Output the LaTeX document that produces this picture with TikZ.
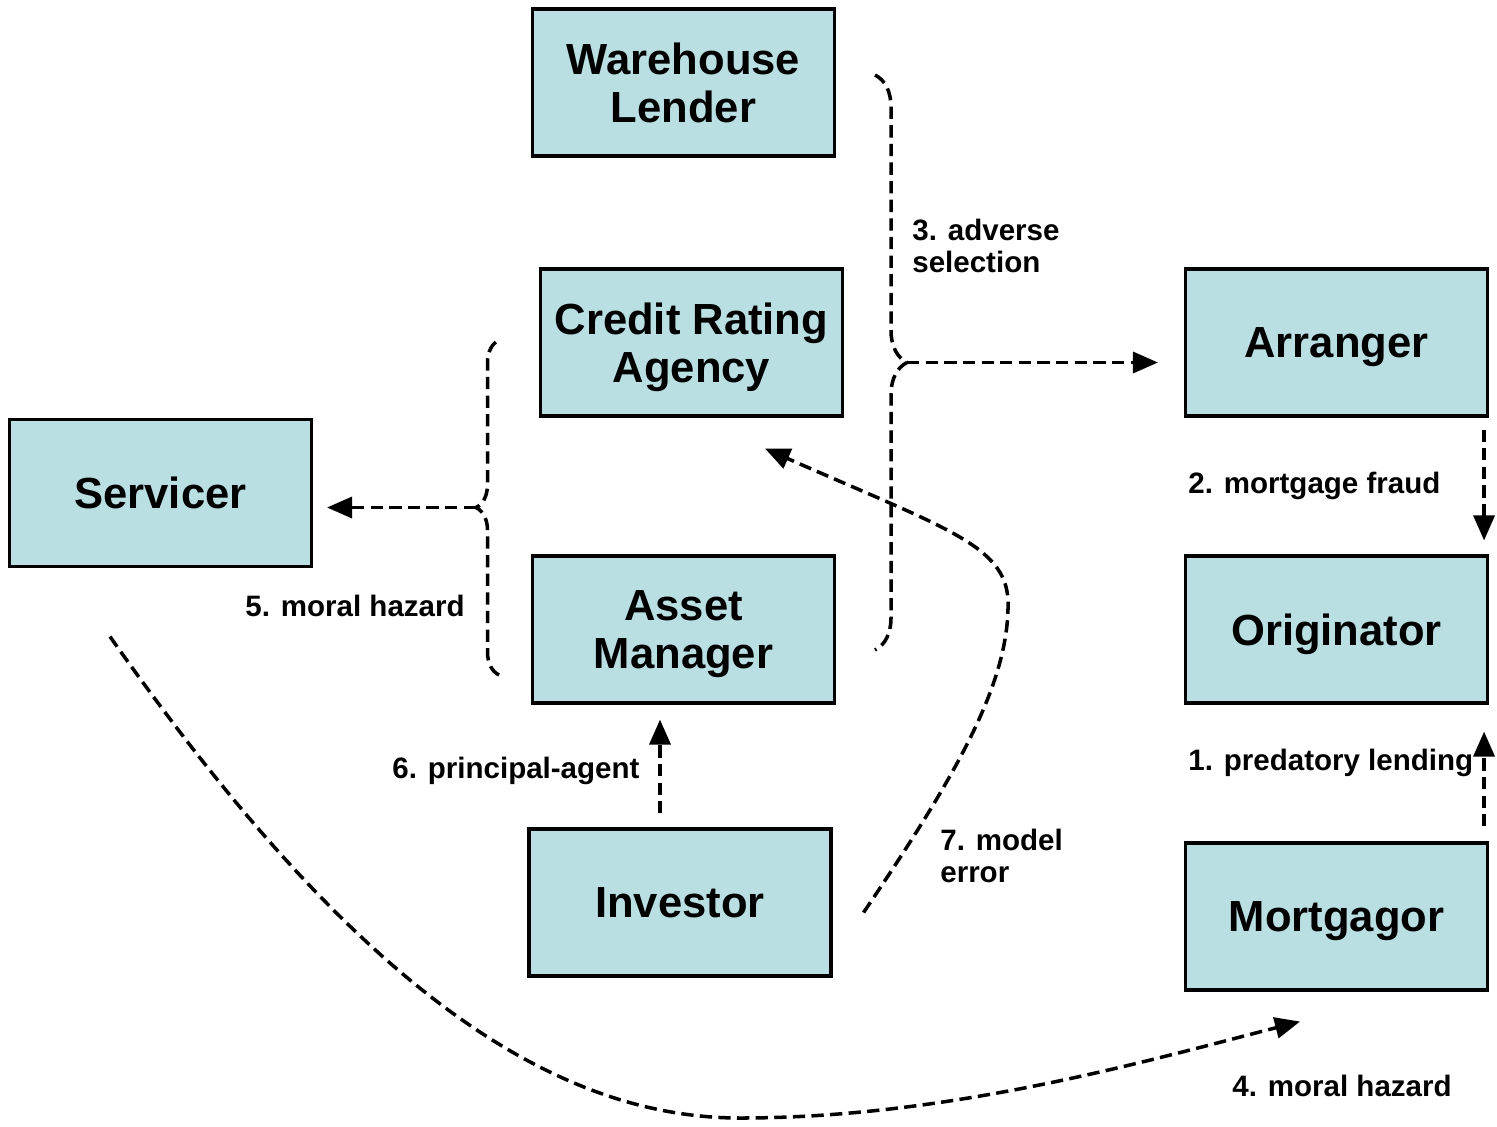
\documentclass[tikz,border=0pt]{standalone}
\usepackage{fontspec}
\setmainfont{Liberation Sans}
\usetikzlibrary{arrows.meta,decorations.pathreplacing,calc}
\definecolor{boxfill}{RGB}{185,223,227}

\begin{document}
\begin{tikzpicture}[x=0.02cm, y=-0.02cm,
    agent/.style={draw, line width=1.8pt, fill=boxfill, minimum width=6.04cm,
      minimum height=2.94cm, align=center, inner sep=0pt, text depth=0pt,
      font=\bfseries\fontsize{24.8}{27.2}\selectfont},
    problem/.style={anchor=west, align=left, inner sep=0pt,
      font=\bfseries\fontsize{16.8}{18.2}\selectfont},
    link/.style={line width=2pt, dash pattern=on 7pt off 3.6pt,
      -{Triangle[length=0.5cm,width=0.42cm]}},
    bracket/.style={line width=2pt, dash pattern=on 7pt off 3.6pt,
      decorate, decoration={brace, amplitude=#1}}]
  \useasboundingbox (0,0) rectangle (1497,1126);

  % parties in the chain
  \node[agent] (warehouse)  at (683.5, 82.5) {Warehouse\\Lender};
  \node[agent] (credit)     at (691.5,342.5) {Credit Rating\\Agency};
  \node[agent] (servicer)   at (160.5,493.0) {Servicer};
  \node[agent] (asset)      at (683.5,629.5) {Asset\\Manager};
  \node[agent] (investor)   at (680.0,902.5) {Investor};
  \node[agent] (arranger)   at (1336.5,342.5) {Arranger};
  \node[agent] (originator) at (1336.5,629.5) {Originator};
  \node[agent] (mortgagor)  at (1336.5,916.5) {Mortgagor};

  % braces grouping the middle column
  \draw[bracket=0.64cm] (875,75) -- (875,650);  % 3
  \coordinate (rtip) at (907,362.5);
  \draw[bracket=0.46cm] (499,675) -- (499,340); % 5
  \coordinate (ltip) at (476,507.5);

  % frictions
  \draw[link, shorten >=0.52cm] (rtip) -- (rtip -| arranger.west);
  \draw[link, shorten >=0.28cm] (ltip) -- (ltip -| servicer.east);
  \draw[link] ($(arranger.south east)+(-5,12)$) -- ($(originator.north east)+(-5,-14)$);
  \draw[link] ($(mortgagor.north east)+(-5,-15)$) -- ($(originator.south east)+(-5,27)$);
  \draw[link] ($(investor.north)+(-20,-14)$) -- ($(asset.south)+(-23.5,15)$);
  \draw[link] ($(investor.east)+(31,10)$) .. controls (960,770) and (1010,680) .. (1008,600)
    .. controls (1005,545) and (945,528) .. ($(credit.south)+(73.5,31)$);
  \draw[link] ($(servicer.south)+(-50.5,68.5)$) .. controls (320,935) and (520,1118) .. (740,1118)
    .. controls (950,1118) and (1150,1060) .. ($(mortgagor.south)+(-36.5,30)$);

  % labels
  \node[problem] (lbl1) at (1188,763) {1. predatory lending};
  \node[problem] (lbl2) at (1188,486) {2. mortgage fraud};
  \node[problem] (lbl3) at (912,246)  {3. adverse\\selection};
  \node[problem] (lbl4) at (1232,1086) {4. moral hazard};
  \node[problem] (lbl5) at (245,606)  {5. moral hazard};
  \node[problem] (lbl6) at (392,771)  {6. principal-agent};
  \node[problem] (lbl7) at (940,856)  {7. model\\error};
\end{tikzpicture}
\end{document}
